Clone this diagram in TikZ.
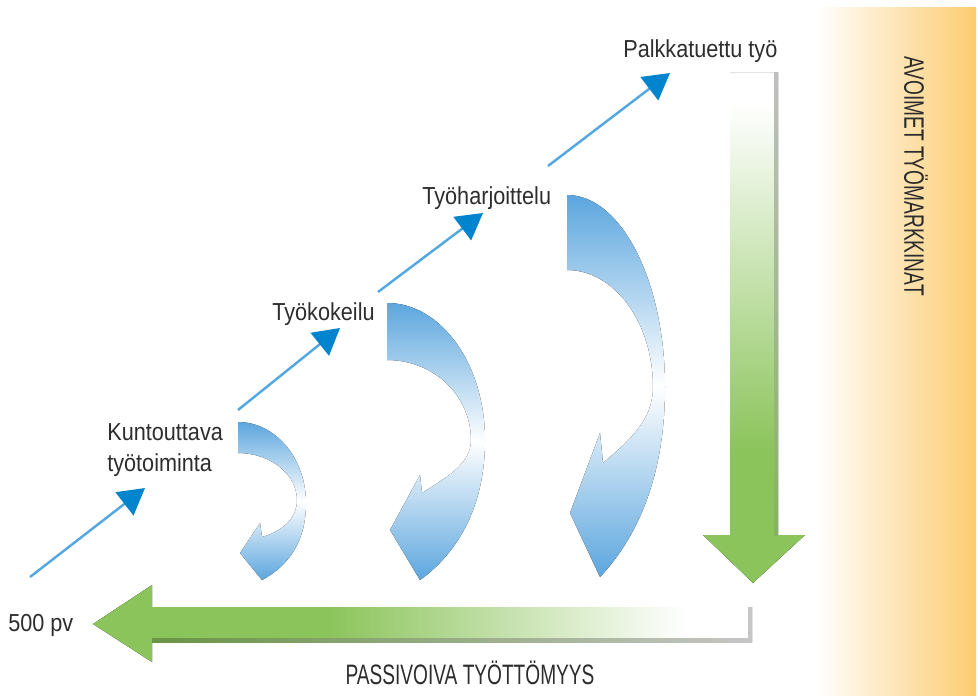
\documentclass[tikz,border=0pt]{standalone}
\usepackage{fontspec}
\setmainfont{Liberation Sans}[FakeStretch=0.88]
\newfontfamily\capsfont{Liberation Sans}[FakeStretch=0.68]
\usetikzlibrary{arrows.meta}

\begin{document}
\begin{tikzpicture}[x=0.02cm, y=-0.02cm,
    steplabel/.style={font=\fontsize{14}{18}\selectfont, text=labelgray, inner sep=0pt},
    bandlabel/.style={font=\capsfont\fontsize{16}{19}\selectfont, text=labelgray, inner sep=0pt},
    steparrow/.style={line width=1.4pt, stepblue, -{Triangle[length=14.8pt, width=16.5pt, color=tipblue]}},
    turnarrow/.style={top color=loopblue, bottom color=loopblue, middle color=white}]
    % Define colors
    \definecolor{stepblue}{RGB}{84,168,226}
    \definecolor{tipblue}{RGB}{0,132,206}
    \definecolor{loopblue}{RGB}{92,166,222}
    \definecolor{pathgreen}{RGB}{140,196,92}
    \definecolor{bandorange}{RGB}{252,204,112}
    \definecolor{labelgray}{RGB}{45,45,45}

    % Fades for the green arrows
    \pgfdeclarehorizontalshading{leftfade}{100bp}{color(0bp)=(pathgreen); color(43bp)=(pathgreen); color(70bp)=(white); color(100bp)=(white)}
    \pgfdeclareverticalshading{downfade}{100bp}{color(0bp)=(pathgreen); color(38bp)=(pathgreen); color(72bp)=(white); color(100bp)=(white)}

    \useasboundingbox (0,0) rectangle (978,696);

    % Open labour market band
    \fill[left color=white, right color=bandorange] (815,8) rectangle (976,696);
    \node[bandlabel, rotate=-90] (avoimet) at (916,176) {AVOIMET TYÖMARKKINAT};

    % Falling arrow
    \fill[shading=downfade] (730,73) -- (778,73) -- (778,535) -- (805,535)
        -- (753,583) -- (703,535) -- (730,535) -- cycle;
    \fill[top color=gray!50, bottom color=pathgreen!70!gray] (774,73) rectangle (778,535);

    % Passive unemployment arrow
    \fill[shading=leftfade] (752,607) -- (152,607) -- (152,585) -- (93,624)
        -- (152,662) -- (152,642) -- (752,642) -- cycle;
    \fill[left color=pathgreen!75!black, right color=gray!45] (152,638) rectangle (752,642);
    \fill[gray!45] (748,607) rectangle (752,642);
    \node[bandlabel, anchor=base] (passive) at (470,684) {PASSIVOIVA TYÖTTÖMYYS};

    % Turning arrows
    \fill[turnarrow] (238,422) .. controls (275,422) and (306,458) .. (306,503)
        .. controls (306,540) and (290,565) .. (262,580) -- (240,553) -- (260,523)
        -- (262,537) .. controls (280,532) and (297,520) .. (297,500)
        .. controls (297,474) and (270,453) .. (238,453) -- cycle;
    \fill[turnarrow] (387,303) .. controls (441,303) and (485,364) .. (485,440)
        .. controls (485,510) and (455,555) .. (420,580) -- (390,530) -- (420,475)
        -- (422,493) .. controls (445,478) and (471,465) .. (471,440)
        .. controls (471,396) and (434,360) .. (387,360) -- cycle;
    \fill[turnarrow] (567,195) .. controls (621,195) and (665,281) .. (665,387)
        .. controls (665,480) and (635,540) .. (600,577) -- (570,513) -- (600,433)
        -- (603,463) .. controls (630,440) and (653,420) .. (653,387)
        .. controls (653,322) and (614,270) .. (567,270) -- cycle;

    % Labels
    \node[steplabel, anchor=base west] (pv) at (8,631) {500 pv};
    \node[steplabel, anchor=north west, align=left] (kunt) at (107,423) {Kuntouttava\\työtoiminta};
    \node[steplabel, anchor=base west] (kokeilu) at (272,320) {Työkokeilu};
    \node[steplabel, anchor=base west] (harj) at (422,205) {Työharjoittelu};
    \node[steplabel, anchor=base west] (palk) at (623,58) {Palkkatuettu työ};

    % Steps up
    \foreach \sx/\sy/\ex/\ey [count=\i] in {30/577/145/488, 238/410/340/328, 378/292/483/213, 548/166/670/73} {
        \coordinate (s\i) at (\sx,\sy);
        \coordinate (e\i) at (\ex,\ey);
        \draw[steparrow] (s\i) -- (e\i);
    }

\end{tikzpicture}
\end{document}
